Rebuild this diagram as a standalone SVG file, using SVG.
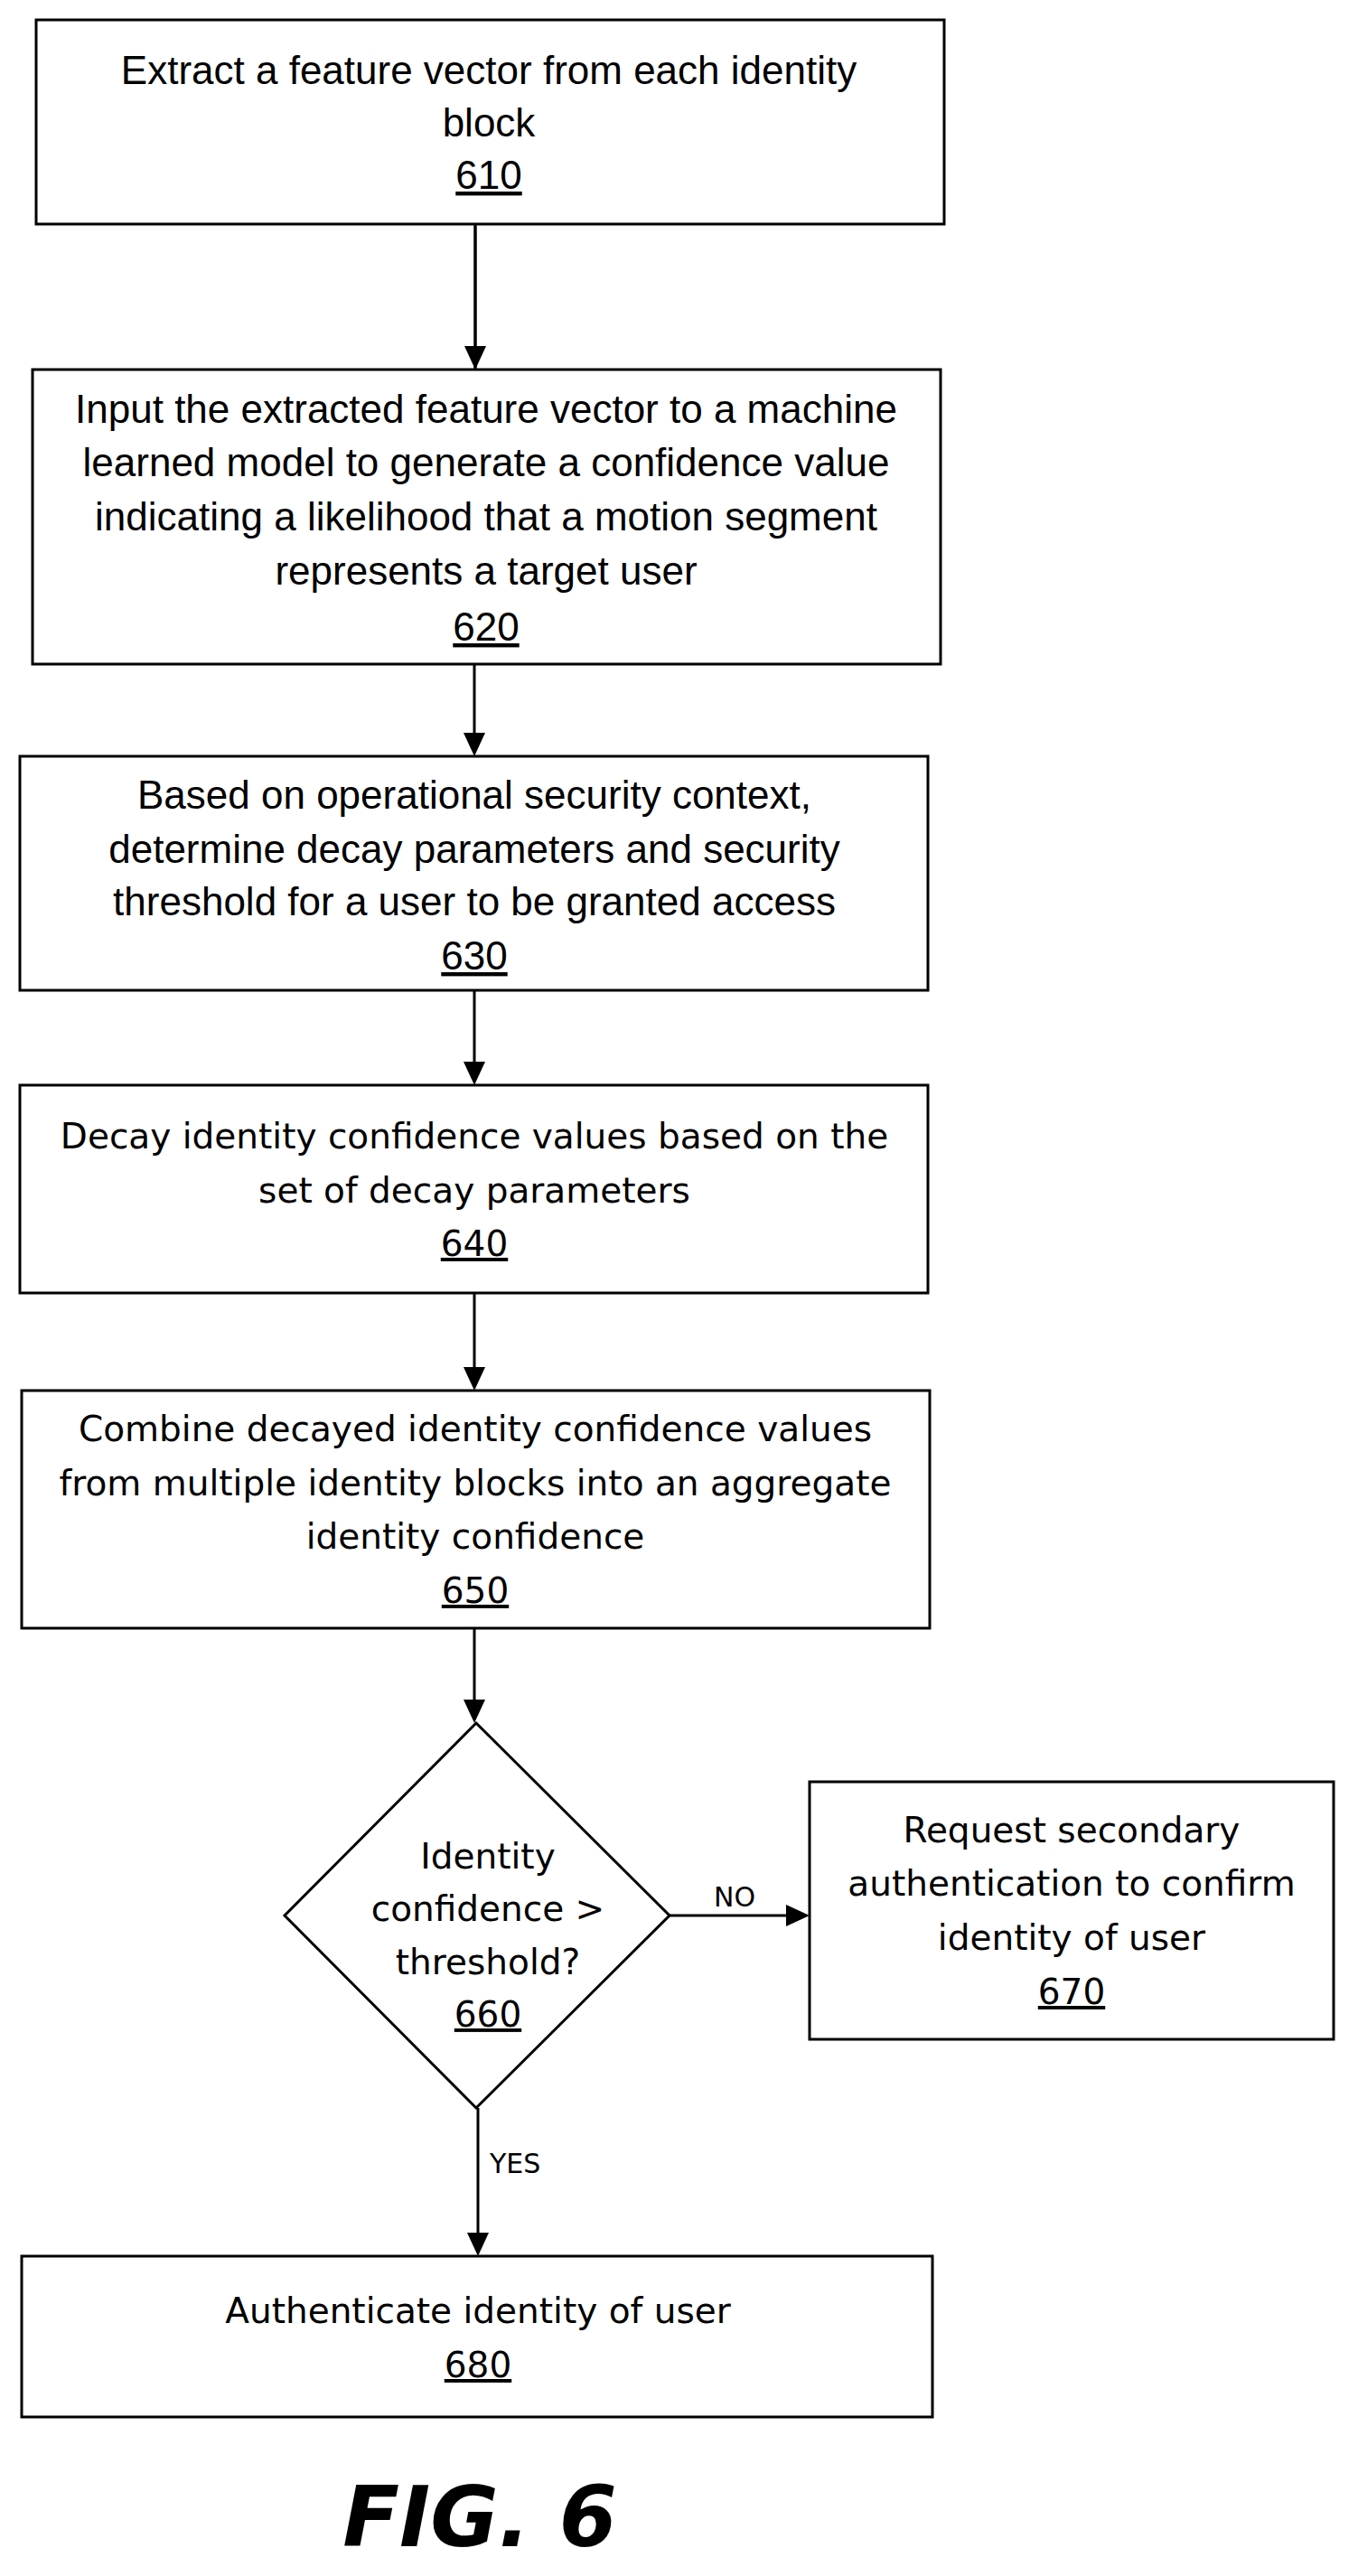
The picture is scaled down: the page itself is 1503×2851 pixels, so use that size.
<svg xmlns="http://www.w3.org/2000/svg" width="1503" height="2851" viewBox="0 0 1503 2851">
<style>
.b{fill:#fff;stroke:#000;stroke-width:3}
.c{font-family:"Liberation Sans Narrow","Liberation Sans",sans-serif;font-size:44px;text-anchor:middle}
.v{font-family:"DejaVu Sans",sans-serif;font-size:39px;text-anchor:middle}
.u{text-decoration:underline}
.l{font-family:"DejaVu Sans",sans-serif;font-size:30px}
.e{stroke:#000;stroke-width:3;fill:none;marker-end:url(#a)}
</style>
<defs><marker id="a" markerWidth="10" markerHeight="10" refX="9" refY="5" orient="auto" markerUnits="userSpaceOnUse" viewBox="0 0 10 10"><path d="M0,0 L10,5 L0,10 z"/></marker></defs>
<rect width="1503" height="2851" fill="#fff"/>
<g id="connectors">
<path class="e" d="M526,248 V409" style="marker-end:none"/>
<path d="M526,250 V407" stroke="#000" stroke-width="3"/>
<path d="M514,383 L526,409 L538,383 z"/>
<path d="M525,735 V812" stroke="#000" stroke-width="3"/><path d="M513,811 L525,837 L537,811 z"/>
<path d="M525,1096 V1176" stroke="#000" stroke-width="3"/><path d="M513,1175 L525,1201 L537,1175 z"/>
<path d="M525,1431 V1514" stroke="#000" stroke-width="3"/><path d="M513,1513 L525,1539 L537,1513 z"/>
<path d="M525,1802 V1882" stroke="#000" stroke-width="3"/><path d="M513,1881 L525,1907 L537,1881 z"/>
<path d="M741,2120 H871" stroke="#000" stroke-width="3"/><path d="M870,2108 L896,2120 L870,2132 z"/>
<path d="M529,2333 V2472" stroke="#000" stroke-width="3"/><path d="M517,2471 L529,2497 L541,2471 z"/>
<text class="l" x="790" y="2110">NO</text>
<text class="l" x="542" y="2405">YES</text>
</g>
<g id="n610"><rect class="b" x="40" y="22" width="1005" height="226"/>
<text class="c" x="541" y="93">Extract a feature vector from each identity</text>
<text class="c" x="541" y="151">block</text>
<text class="c u" x="541" y="209">610</text></g>
<g id="n620"><rect class="b" x="36" y="409" width="1005" height="326"/>
<text class="c" x="538" y="468">Input the extracted feature vector to a machine</text>
<text class="c" x="538" y="527">learned model to generate a confidence value</text>
<text class="c" x="538" y="587">indicating a likelihood that a motion segment</text>
<text class="c" x="538" y="647">represents a target user</text>
<text class="c u" x="538" y="709">620</text></g>
<g id="n630"><rect class="b" x="22" y="837" width="1005" height="259"/>
<text class="c" x="525" y="895">Based on operational security context,</text>
<text class="c" x="525" y="955">determine decay parameters and security</text>
<text class="c" x="525" y="1013">threshold for a user to be granted access</text>
<text class="c u" x="525" y="1073">630</text></g>
<g id="n640"><rect class="b" x="22" y="1201" width="1005" height="230"/>
<text class="v" x="525" y="1271">Decay identity confidence values based on the</text>
<text class="v" x="525" y="1331">set of decay parameters</text>
<text class="v u" x="525" y="1390">640</text></g>
<g id="n650"><rect class="b" x="24" y="1539" width="1005" height="263"/>
<text class="v" x="526" y="1595">Combine decayed identity confidence values</text>
<text class="v" x="526" y="1655">from multiple identity blocks into an aggregate</text>
<text class="v" x="526" y="1714">identity confidence</text>
<text class="v u" x="526" y="1774">650</text></g>
<g id="n660"><path class="b" d="M527,1907 L741,2120 L527,2333 L315,2120 z"/>
<text class="v" x="540" y="2068">Identity</text>
<text class="v" x="540" y="2126">confidence &gt;</text>
<text class="v" x="540" y="2185">threshold?</text>
<text class="v u" x="540" y="2243">660</text></g>
<g id="n670"><rect class="b" x="896" y="1972" width="580" height="285"/>
<text class="v" x="1186" y="2039">Request secondary</text>
<text class="v" x="1186" y="2098">authentication to confirm</text>
<text class="v" x="1186" y="2158">identity of user</text>
<text class="v u" x="1186" y="2218">670</text></g>
<g id="n680"><rect class="b" x="24" y="2497" width="1008" height="178"/>
<text class="v" x="529" y="2571">Authenticate identity of user</text>
<text class="v u" x="529" y="2631">680</text></g>
<text x="531" y="2818" font-family="DejaVu Sans,sans-serif" font-weight="bold" font-style="italic" font-size="92" text-anchor="middle">FIG. 6</text>
</svg>
